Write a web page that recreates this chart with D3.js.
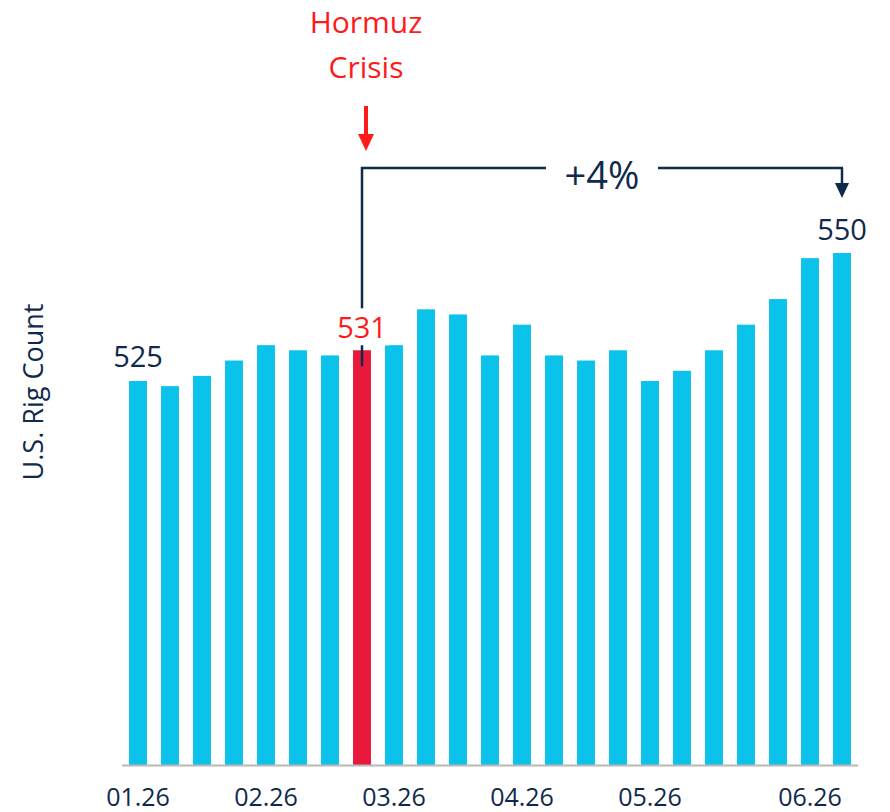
<!DOCTYPE html>
<html>
<head>
<meta charset="utf-8">
<script src="https://cdn.jsdelivr.net/npm/d3@7"></script>
<style>
  body { margin: 0; background: #fff; }
  text { font-family: "Open Sans", Lato, sans-serif; }
</style>
</head>
<body>
<div id="chart"></div>
<script>
// weekly U.S. rig count, Jan - Jun
const weeks = ["w01","w02","w03","w04","w05","w06","w07","w08","w09","w10","w11","w12",
               "w13","w14","w15","w16","w17","w18","w19","w20","w21","w22","w23"];
const rigCount = [525,524,526,529,532,531,530,531,532,539,538,530,536,530,529,531,525,527,531,536,541,549,550];
const tickWeeks = ["w01","w05","w09","w13","w17","w22"];
const tickLabels = ["01.26","02.26","03.26","04.26","05.26","06.26"];
const crisisWeek = "w08";
const lastWeek = "w23";
const changeLabel = "+4%";

const width = 890, height = 812;
const navy = "#0f2a4a", cyan = "#0bc3ea", red = "#e8193c", brightRed = "#ff1a1a";

const svg = d3.select("#chart").append("svg")
    .attr("width", width)
    .attr("height", height);

const x = d3.scaleBand()
    .domain(weeks)
    .range([122, 858])
    .paddingInner(0.44)
    .paddingOuter(0.22);

const y = d3.scaleLinear()
    .domain([450, 550])
    .range([765, 253]);

const data = weeks.map((w, i) => ({week: w, value: rigCount[i]}));

svg.selectAll("rect.bar")
    .data(data)
    .enter()
    .append("rect")
    .attr("class", "bar")
    .attr("x", d => x(d.week))
    .attr("y", d => y(d.value))
    .attr("width", x.bandwidth())
    .attr("height", d => y(450) - y(d.value))
    .attr("fill", d => d.week === crisisWeek ? red : cyan);

// baseline
svg.append("line")
    .attr("x1", 122).attr("x2", 858)
    .attr("y1", y(450) + 0.5).attr("y2", y(450) + 0.5)
    .attr("stroke", "#b8b8b8")
    .attr("stroke-width", 2);

// x axis labels
const xAxis = svg.append("g")
    .attr("transform", "translate(0," + y(450) + ")")
    .call(d3.axisBottom(x).tickValues(tickWeeks).tickFormat((d, i) => tickLabels[i]).tickSize(0).tickPadding(23));
xAxis.select(".domain").remove();
xAxis.selectAll("text")
    .style("font-family", "'Open Sans', Lato, sans-serif")
    .style("font-size", "25px")
    .attr("fill", navy);

// y label
svg.append("text")
    .attr("transform", "translate(43,392) rotate(-90)")
    .style("text-anchor", "middle")
    .style("font-size", "27px")
    .attr("fill", navy)
    .text("U.S. Rig Count");

const cx = d => x(d) + x.bandwidth() / 2;
const crisisVal = rigCount[weeks.indexOf(crisisWeek)];
const lastVal = rigCount[weeks.indexOf(lastWeek)];

// bracket
const bracketY = 168;
svg.append("line")
    .attr("x1", cx(crisisWeek)).attr("x2", cx(crisisWeek))
    .attr("y1", bracketY - 1).attr("y2", y(crisisVal) + 16)
    .attr("stroke", navy).attr("stroke-width", 2.5);
svg.append("line")
    .attr("x1", cx(crisisWeek) - 1).attr("x2", 546)
    .attr("y1", bracketY).attr("y2", bracketY)
    .attr("stroke", navy).attr("stroke-width", 2.5);
svg.append("line")
    .attr("x1", 658).attr("x2", cx(lastWeek) + 1)
    .attr("y1", bracketY).attr("y2", bracketY)
    .attr("stroke", navy).attr("stroke-width", 2.5);
svg.append("line")
    .attr("x1", cx(lastWeek)).attr("x2", cx(lastWeek))
    .attr("y1", bracketY).attr("y2", 185)
    .attr("stroke", navy).attr("stroke-width", 2.5);
svg.append("path")
    .attr("d", `M${cx(lastWeek) - 7},183 L${cx(lastWeek) + 7},183 L${cx(lastWeek)},198 Z`)
    .attr("fill", navy);
svg.append("text")
    .attr("x", 602).attr("y", 189)
    .style("text-anchor", "middle")
    .style("font-size", "38px")
    .attr("fill", navy)
    .text(changeLabel);

// value labels
const crisisLabel = svg.append("g");
crisisLabel.append("rect")
    .attr("x", cx(crisisWeek) - 28).attr("y", y(crisisVal) - 42)
    .attr("width", 56).attr("height", 37)
    .attr("fill", "#fff");
crisisLabel.append("text")
    .attr("x", cx(crisisWeek)).attr("y", y(crisisVal) - 12)
    .style("text-anchor", "middle")
    .style("font-size", "29px")
    .attr("fill", brightRed)
    .text(crisisVal);

svg.append("text")
    .attr("x", cx(weeks[0])).attr("y", y(rigCount[0]) - 14)
    .style("text-anchor", "middle")
    .style("font-size", "29px")
    .attr("fill", navy)
    .text(rigCount[0]);

svg.append("text")
    .attr("x", cx(lastWeek)).attr("y", y(lastVal) - 13)
    .style("text-anchor", "middle")
    .style("font-size", "29px")
    .attr("fill", navy)
    .text(lastVal);

// Hormuz crisis marker
svg.append("text")
    .attr("x", cx(crisisWeek) + 4).attr("y", 33)
    .style("text-anchor", "middle")
    .style("font-size", "30px")
    .attr("fill", brightRed)
    .text("Hormuz");
svg.append("text")
    .attr("x", cx(crisisWeek) + 4).attr("y", 78)
    .style("text-anchor", "middle")
    .style("font-size", "30px")
    .attr("fill", brightRed)
    .text("Crisis");
svg.append("line")
    .attr("x1", cx(crisisWeek) + 4).attr("x2", cx(crisisWeek) + 4)
    .attr("y1", 106).attr("y2", 136)
    .attr("stroke", brightRed).attr("stroke-width", 4);
svg.append("path")
    .attr("d", `M${cx(crisisWeek) - 4},134 L${cx(crisisWeek) + 12},134 L${cx(crisisWeek) + 4},151 Z`)
    .attr("fill", brightRed);
</script>
</body>
</html>
